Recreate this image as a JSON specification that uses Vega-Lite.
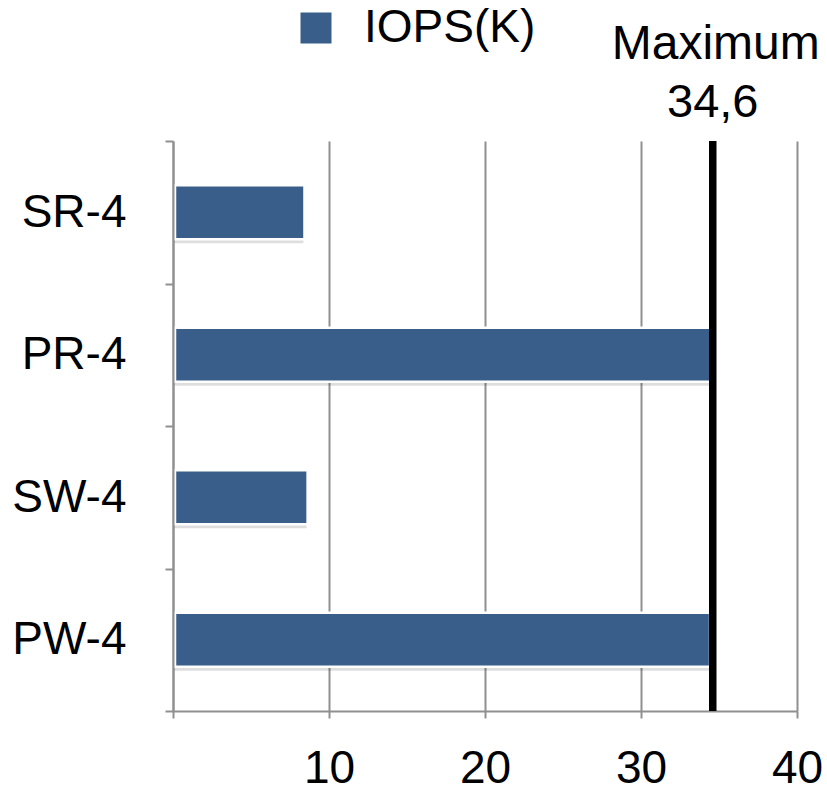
{
  "$schema": "https://vega.github.io/schema/vega-lite/v6.json",
  "autosize": "none",
  "width": 624,
  "height": 570,
  "padding": {"left": 173, "top": 141, "right": 30, "bottom": 78},
  "background": "white",
  "config": {
    "font": "Liberation Sans",
    "view": {"stroke": null},
    "locale": {
      "number": {"decimal": ",", "thousands": ".", "grouping": [3], "currency": ["", " €"]}
    }
  },
  "datasets": {
    "bars": [
      {"test": "SR-4", "iops": 8.3, "series": "IOPS(K)"},
      {"test": "PR-4", "iops": 34.5, "series": "IOPS(K)"},
      {"test": "SW-4", "iops": 8.5, "series": "IOPS(K)"},
      {"test": "PW-4", "iops": 34.3, "series": "IOPS(K)"}
    ],
    "maximum": [
      {"label": "Maximum", "value": 34.6}
    ]
  },
  "layer": [
    {
      "data": {"name": "bars"},
      "mark": {"type": "bar", "color": "#000000", "opacity": 0.13, "height": {"band": 0.38}, "yOffset": 4, "xOffset": 1},
      "encoding": {
        "y": {"field": "test", "type": "nominal", "sort": null,
              "scale": {"paddingInner": 0, "paddingOuter": 0}},
        "x": {"field": "iops", "type": "quantitative"}
      }
    },
    {
      "data": {"name": "bars"},
      "mark": {"type": "bar", "height": {"band": 0.38}, "stroke": "white", "strokeWidth": 2.5, "xOffset": 2},
      "encoding": {
        "y": {
          "field": "test", "type": "nominal", "sort": null, "title": null,
          "scale": {"paddingInner": 0, "paddingOuter": 0},
          "axis": {
            "zindex": 1,
            "tickBand": "extent",
            "domainColor": "#909090", "domainWidth": 2,
            "tickColor": "#909090", "tickWidth": 2, "tickSize": 8,
            "labelFontSize": 46, "labelColor": "#000000",
            "labelPadding": 39, "labelBaseline": "middle",
            "grid": false
          }
        },
        "x": {
          "field": "iops", "type": "quantitative", "title": null,
          "scale": {"domain": [0, 40], "nice": false},
          "axis": {
            "values": [0, 10, 20, 30, 40],
            "labelExpr": "datum.value == 0 ? '' : datum.label",
            "format": "d",
            "grid": true, "gridColor": "#909090", "gridWidth": 2,
            "domainColor": "#909090", "domainWidth": 2,
            "tickColor": "#909090", "tickWidth": 2, "tickSize": 7,
            "labelFontSize": 46, "labelColor": "#000000",
            "labelPadding": 28, "labelFlush": false
          }
        },
        "color": {
          "field": "series", "type": "nominal", "title": null,
          "scale": {"domain": ["IOPS(K)"], "range": ["#3a5e8a"]},
          "legend": {
            "orient": "none", "legendX": 120, "legendY": -136,
            "symbolType": "square", "symbolSize": 961, "symbolStrokeWidth": 0,
            "symbolOpacity": 1,
            "labelFontSize": 46, "labelColor": "#000000", "labelOffset": 25,
            "labelLimit": 0,
            "padding": 0
          }
        }
      }
    },
    {
      "data": {"name": "maximum"},
      "mark": {"type": "rule", "color": "#000000", "strokeWidth": 7.5},
      "encoding": {
        "x": {"field": "value", "type": "quantitative"}
      }
    },
    {
      "data": {"name": "maximum"},
      "mark": {"type": "text", "fontSize": 48, "color": "#000000", "align": "center", "baseline": "alphabetic", "y": 0, "dy": -82, "dx": 3},
      "encoding": {
        "x": {"field": "value", "type": "quantitative"},
        "text": {"field": "label", "type": "nominal"}
      }
    },
    {
      "data": {"name": "maximum"},
      "mark": {"type": "text", "fontSize": 47, "color": "#000000", "align": "center", "baseline": "alphabetic", "y": 0, "dy": -24},
      "encoding": {
        "x": {"field": "value", "type": "quantitative"},
        "text": {"field": "value", "type": "quantitative", "format": ".1f"}
      }
    }
  ]
}
